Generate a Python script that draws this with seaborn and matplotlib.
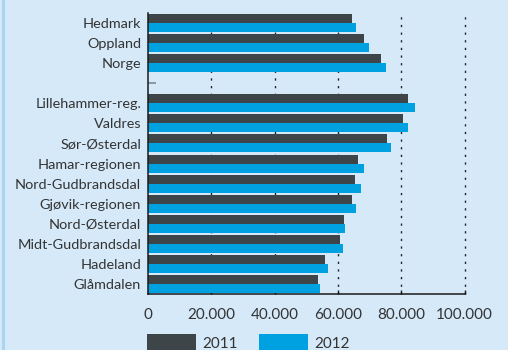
import matplotlib
matplotlib.use("Agg")
import matplotlib.pyplot as plt
from matplotlib.ticker import FuncFormatter
from matplotlib.patches import Rectangle
import seaborn as sns
import pandas as pd

# Regions (top to bottom); the blank entry separates county totals from regions
regions = ["Hedmark", "Oppland", "Norge", " ",
           "Lillehammer-reg.", "Valdres", "Sør-Østerdal", "Hamar-regionen",
           "Nord-Gudbrandsdal", "Gjøvik-regionen", "Nord-Østerdal",
           "Midt-Gudbrandsdal", "Hadeland", "Glåmdalen"]
data_regions = [r for r in regions if r.strip()]
values_2011 = [64300, 68100, 73500,
               82300, 80700, 75400, 66500, 65300, 64300, 61800, 60800, 55800, 53600]
values_2012 = [65600, 69700, 75100,
               84500, 82300, 76700, 68100, 67200, 65600, 62100, 61500, 57000, 54500]
years = ["2011", "2012"]
xticks = [0, 20000, 40000, 60000, 80000, 100000]

df = pd.DataFrame({
    "region": data_regions * 2,
    "value": values_2011 + values_2012,
    "year": [years[0]] * len(data_regions) + [years[1]] * len(data_regions),
})

BG = "#d5e9f9"
TEXT = "#333333"
sns.set_theme(style="white")
plt.rcParams["font.family"] = ["Lato", "DejaVu Sans"]

fig = plt.figure(figsize=(5.08, 3.5), dpi=100, facecolor=BG)
fig.patches.append(Rectangle((2 / 508, 0), 3 / 508, 1, transform=fig.transFigure,
                             facecolor="#a9d5f2", edgecolor="none", zorder=0))
ax = fig.add_axes([148 / 508, 1 - 294 / 350, (464.5 - 148) / 508, (294 - 13) / 350])
ax.set_facecolor(BG)
ax.set_axisbelow(True)

sns.barplot(data=df, x="value", y="region", hue="year", order=regions,
            hue_order=years, palette=["#3d4548", "#00a1e0"], orient="h",
            width=0.9, errorbar=None, saturation=1, linewidth=0, ax=ax,
            legend=False)

ax.set_xlim(0, 100000)
ax.set_ylim(len(regions) - 0.5, -0.5)
ax.set_xticks(xticks)
ax.xaxis.set_major_formatter(FuncFormatter(lambda v, p: f"{int(v):,}".replace(",", ".")))
ax.set_xlabel("")
ax.set_ylabel("")

for x in xticks[1:]:
    ax.axvline(x, color="#222222", linewidth=1.0, linestyle=(0, (1.6, 3.9)),
               zorder=0.5, clip_on=False)

for side in ["top", "right"]:
    ax.spines[side].set_visible(False)
ax.spines["left"].set_color("#1a1a1a")
ax.spines["bottom"].set_color("#1a1a1a")
ax.spines["left"].set_linewidth(1.1)
ax.spines["bottom"].set_linewidth(1.1)

ax.tick_params(axis="y", direction="in", length=6, width=1.2, color="#7f8a90",
               labelsize=10.4, labelcolor=TEXT, pad=5, left=True)
ax.tick_params(axis="x", direction="in", length=3, width=1, color="#1a1a1a",
               labelsize=11, labelcolor=TEXT, pad=10, bottom=True)

handles = [Rectangle((0, 0), 1, 1, facecolor=c, edgecolor="none")
           for c in ["#3d4548", "#00a1e0"]]
fig.legend(handles, years, loc="upper left", bbox_to_anchor=(147 / 508, 1 - 334 / 350),
           ncol=2, frameon=False, fontsize=11, handlelength=3.2, handleheight=1.4,
           handletextpad=0.4, columnspacing=1.4, borderpad=0, borderaxespad=0,
           labelcolor=TEXT)

fig.savefig("out.png", dpi=100, facecolor=BG)
